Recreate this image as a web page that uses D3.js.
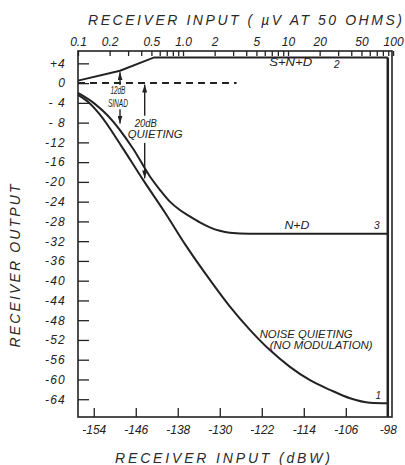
<!DOCTYPE html>
<html>
<head>
<meta charset="utf-8">
<script src="https://cdn.jsdelivr.net/npm/d3@7"></script>
<style>
body { margin: 0; background: #fff; }
text { font-family: "Liberation Sans", Arial, sans-serif; font-style: italic; fill: #222; }
.tick text { font-size: 12px; }
.ylab .tick text { letter-spacing: 1.2px; }
.title { font-size: 14px; fill: #2a2a2a; }
.note { font-size: 10px; }
</style>
</head>
<body>
<script>
const width = 405, height = 465;

// curve 2: S+N+D
const sndX = [-157, -149, -142.5, -98];
const sndY = [0.5, 2.5, 5.2, 5.2];

// curve 3: N+D
const ndX = [-157, -153.8, -151.3, -146.5, -143.3, -141.4, -139.5, -137.6, -135.7, -133.8, -131.9, -130.0, -128.1, -124.3, -98];
const ndY = [-2.0, -4.2, -6.6, -13.3, -18.9, -21.6, -24.0, -25.7, -27.0, -28.2, -29.2, -29.9, -30.3, -30.5, -30.5];

// curve 1: noise quieting (no modulation)
const nqX = [-157, -155, -152.9, -148.7, -144.6, -140.2, -136.5, -131.9, -128.1, -124.3, -120.5, -116.7, -112.9, -109.0, -105.2, -101.4, -98];
const nqY = [-2.4, -3.9, -6.3, -12.8, -19.6, -26.6, -32.8, -39.8, -45.2, -49.9, -54.0, -57.4, -60.1, -62.1, -63.8, -64.7, -64.8];

// 0 dB reference (dashed)
const refX = [-157, -126.8];

// 12 dB SINAD and 20 dB quieting arrows
const arrowX = [-149, -144.3];
const arrowTip1 = [2.2, -0.3];
const arrowGap1 = [-0.4, -6.6];
const arrowGap2 = [-5.3, -12.1];
const arrowTip2 = [-8.2, -19.3];

// axes
const xTicks = d3.range(-154, -97, 8);
const yTicks = d3.range(4, -65, -4);
const uvLabelled = [0.1, 0.2, 0.5, 1, 2, 5, 10, 20, 50, 100];
const uvLabels = ['0.1', '0.2', '0.5', '1.0', '2', '5', '10', '20', '50', '100'];

const svg = d3.select('body').append('svg').attr('width', width).attr('height', height);

const x = d3.scaleLinear().domain([-157, -97.2]).range([78, 392]);
const y = d3.scaleLinear().domain([6.5, -67.6]).range([51, 417]);
// µV across 50 ohms -> dBW = 20log10(uV) - 137
const xuv = d3.scaleLog().domain([0.1, 100]).range([x(-157), x(-97)]);

const ink = '#222';

const defs = svg.append('defs');
defs.append('marker')
  .attr('id', 'ah')
  .attr('viewBox', '0 0 10 10')
  .attr('preserveAspectRatio', 'none')
  .attr('refX', 10).attr('refY', 5)
  .attr('markerUnits', 'userSpaceOnUse')
  .attr('markerWidth', 8).attr('markerHeight', 5)
  .attr('orient', 'auto')
  .append('path').attr('d', 'M0,0L10,5L0,10z').attr('fill', ink);

// frame
svg.append('rect')
  .attr('x', x.range()[0]).attr('y', y.range()[0])
  .attr('width', x.range()[1] - x.range()[0])
  .attr('height', y.range()[1] - y.range()[0])
  .attr('fill', 'none').attr('stroke', ink).attr('stroke-width', 1.6);

// axes with inward ticks
const yAxis = svg.append('g').attr('class', 'ylab')
  .attr('transform', `translate(${x.range()[0]},0)`)
  .call(d3.axisLeft(y).tickValues(yTicks).tickSize(-11).tickPadding(12)
    .tickFormat(d => d > 0 ? '+' + d : d < 0 ? (d > -10 ? '- ' : '-') + Math.abs(d) : '0'));

const xAxis = svg.append('g')
  .attr('transform', `translate(0,${y.range()[1]})`)
  .call(d3.axisBottom(x).tickValues(xTicks).tickSize(-9).tickPadding(8)
    .tickFormat(d => '-' + Math.abs(d)));

const topAxis = svg.append('g')
  .attr('transform', `translate(0,${y.range()[0]})`)
  .call(d3.axisTop(xuv).tickValues(xuv.ticks()).tickSize(-5).tickPadding(5)
    .tickFormat(d => {
      const i = uvLabelled.findIndex(v => Math.abs(v - d) < 1e-9);
      return i >= 0 ? uvLabels[i] : '';
    }));

[yAxis, xAxis, topAxis].forEach(g => {
  g.attr('font-size', null).attr('font-family', null).attr('color', ink);
  g.select('.domain').remove();
  g.selectAll('.tick line').attr('stroke-width', 1.3);
});

// curves
const smooth = d3.line().x(d => x(d[0])).y(d => y(d[1])).curve(d3.curveMonotoneX);
const straight = d3.line().x(d => x(d[0])).y(d => y(d[1]));

svg.append('path').datum(d3.zip(sndX, sndY)).attr('d', straight)
  .attr('fill', 'none').attr('stroke', ink).attr('stroke-width', 2);
svg.append('path').datum(d3.zip(ndX, ndY)).attr('d', smooth)
  .attr('fill', 'none').attr('stroke', ink).attr('stroke-width', 2);
svg.append('path').datum(d3.zip(nqX, nqY)).attr('d', smooth)
  .attr('fill', 'none').attr('stroke', ink).attr('stroke-width', 2);

// cut-off at -98 dBW
svg.append('line')
  .attr('x1', x(-98)).attr('x2', x(-98))
  .attr('y1', y(sndY[sndY.length - 1])).attr('y2', y.range()[1])
  .attr('stroke', ink).attr('stroke-width', 2.5);

// dashed 0 dB reference
svg.append('line')
  .attr('x1', x(refX[0])).attr('x2', x(refX[1]))
  .attr('y1', y(0)).attr('y2', y(0))
  .attr('stroke', ink).attr('stroke-width', 2).attr('stroke-dasharray', '7,5');

// arrows
arrowX.forEach((a, i) => {
  svg.append('line')
    .attr('x1', x(a)).attr('x2', x(a))
    .attr('y1', y(arrowGap1[i])).attr('y2', y(arrowTip1[i]))
    .attr('stroke', ink).attr('stroke-width', 1.4).attr('marker-end', 'url(#ah)');
  svg.append('line')
    .attr('x1', x(a)).attr('x2', x(a))
    .attr('y1', y(arrowGap2[i])).attr('y2', y(arrowTip2[i]))
    .attr('stroke', ink).attr('stroke-width', 1.4).attr('marker-end', 'url(#ah)');
});

// notes: text, x (dBW), y (dB), anchor, width
const notes = [
  ['12dB', -149.4, -1.4, 'middle', 15],
  ['SINAD', -149.4, -4.05, 'middle', 20],
  ['20dB', -144.1, -8.1, 'middle', 22],
  ['QUIETING', -142.3, -10.5, 'middle', 55],
  ['S+N+D', -116.5, 4.1, 'middle', 43],
  ['2', -107.7, 3.7, 'middle', null],
  ['N+D', -115.3, -28.9, 'middle', 25],
  ['3', -100.1, -28.9, 'middle', null],
  ['NOISE QUIETING', -122.4, -50.8, 'start', 93],
  ['(NO MODULATION)', -120.5, -53.1, 'start', 103],
  ['1', -99.8, -63.3, 'middle', null]
];
notes.forEach(n => {
  const t = svg.append('text').attr('class', 'note')
    .attr('x', x(n[1])).attr('y', y(n[2])).attr('dy', '0.35em')
    .attr('text-anchor', n[3]).text(n[0]);
  if (n[4]) t.attr('textLength', n[4]).attr('lengthAdjust', 'spacingAndGlyphs');
});

// axis titles
svg.append('text').attr('class', 'title')
  .attr('x', 88).attr('y', 25)
  .attr('textLength', 314).attr('lengthAdjust', 'spacing')
  .text('RECEIVER  INPUT   ( µV AT 50  OHMS)');

svg.append('text').attr('class', 'title')
  .attr('x', 115).attr('y', 463)
  .attr('textLength', 215).attr('lengthAdjust', 'spacing')
  .text('RECEIVER  INPUT   (dBW)');

svg.append('text').attr('class', 'title')
  .attr('transform', 'translate(20,266) rotate(-90)')
  .attr('text-anchor', 'middle')
  .attr('textLength', 163).attr('lengthAdjust', 'spacing')
  .text('RECEIVER   OUTPUT');
</script>
</body>
</html>
